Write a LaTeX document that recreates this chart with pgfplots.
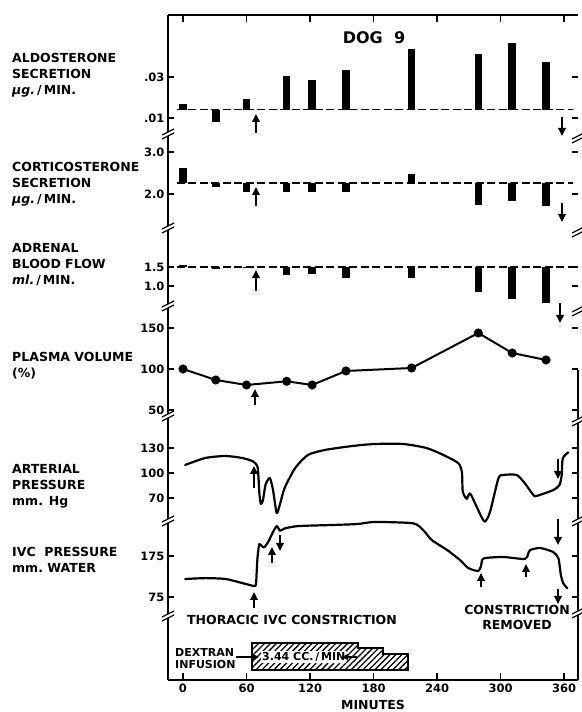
\documentclass[border=0pt]{standalone}
\usepackage{pgfplots}
\pgfplotsset{compat=1.18}
\usepackage{fontspec}
\setmainfont{DejaVu Sans}
\usetikzlibrary{arrows.meta,patterns.meta}
\newcommand{\lab}{\fontsize{12.5}{16}\selectfont\bfseries}
\newcommand{\tlab}{\fontsize{11.5}{13}\selectfont\bfseries}
\pgfplotsset{
  panel/.style={
    scale only axis, width=410pt, xmin=-14.17, xmax=373.2,
    anchor=south west, clip=false,
    hide x axis,
    y axis line style={draw=none},
    ytick pos=both, yticklabel pos=left,
    tick align=inside, major tick length=6pt,
    every tick/.style={black, line width=1.5pt},
    yticklabel style={font=\tlab},
    /pgf/number format/assume math mode=true,
    scaled y ticks=false,
    unbounded coords=jump,
  },
  curve/.style={black, line width=2.2pt, line join=round, line cap=round, smooth, tension=0.4},
  bars/.style={black, line width=7.5pt},
  base/.style={black, line width=1.6pt, dash pattern=on 8pt off 3.5pt},
}
\tikzset{arr/.style={line width=1.8pt, -{Triangle[length=8pt,width=7.5pt]}}}
\begin{document}
\begin{tikzpicture}[x=1pt,y=1pt]
\useasboundingbox (0,0) rectangle (581,712);
% ---------- master frame with time axis ----------
\begin{axis}[scale only axis, width=410pt, height=665pt, at={(168pt,32pt)}, anchor=south west,
  xmin=-14.17, xmax=373.2, ymin=0, ymax=665,
  axis x line=box, axis y line=left, axis line style={-, line width=1.6pt},
  ytick=\empty, xtick={0,60,...,360}, xtick pos=both, xticklabel pos=lower,
  tick align=inside, major tick length=7pt, every tick/.style={black,line width=1.5pt},
  xticklabel style={font=\tlab}, /pgf/number format/assume math mode=true, clip=false]
\addplot[draw=black, line width=1.4pt, pattern={Lines[angle=45, distance=4.2pt, line width=1.3pt]}]
  coordinates {(65.2,10) (65.2,37) (165.4,37) (165.4,32) (189,32) (189,26) (212.6,26) (212.6,10)} -- cycle;
\end{axis}
% ---------- Aldosterone ----------
\begin{axis}[panel, at={(168pt,579pt)}, height=118pt, ymin=0.0026829, ymax=0.0602439,
  ytick={0.01,0.03}, yticklabels={.01,.03}]
\addplot[base] coordinates {(-6,0.0141) (368,0.0141)};
\addplot[bars] coordinates {(0,0.0141)(0,0.0168) (0,nan)
  (31,0.0141)(31,0.0080) (31,nan) (60,0.0141)(60,0.0193) (60,nan)
  (98,0.0141)(98,0.0305) (98,nan) (122,0.0141)(122,0.0285) (122,nan)
  (154,0.0141)(154,0.0334) (154,nan) (216,0.0141)(216,0.0436) (216,nan)
  (279,0.0141)(279,0.0412) (279,nan) (311,0.0141)(311,0.0465) (311,nan)
  (343,0.0141)(343,0.0372)};
\end{axis}
% ---------- Corticosterone ----------
\begin{axis}[panel, at={(168pt,485pt)}, height=94pt, ymin=1.2143, ymax=3.4524,
  ytick={2,3}, yticklabels={2.0,3.0}]
\addplot[base] coordinates {(-6,2.267) (368,2.267)};
\addplot[bars] coordinates {(0,2.267)(0,2.61) (0,nan)
  (31,2.267)(31,2.174) (31,nan) (60,2.267)(60,2.04) (60,nan)
  (98,2.267)(98,2.055) (98,nan) (122,2.267)(122,2.055) (122,nan)
  (154,2.267)(154,2.04) (154,nan) (216,2.267)(216,2.476) (216,nan)
  (279,2.267)(279,1.738) (279,nan) (311,2.267)(311,1.833) (311,nan)
  (343,2.267)(343,1.714)};
\end{axis}
% ---------- Adrenal blood flow ----------
\begin{axis}[panel, at={(168pt,407pt)}, height=78pt, ymin=0.5, ymax=2.5526,
  ytick={1,1.5}, yticklabels={1.0,1.5}]
\addplot[base] coordinates {(-6,1.5) (368,1.5)};
\addplot[bars] coordinates {(0,1.5)(0,1.56) (0,nan)
  (31,1.5)(31,1.455) (31,nan) (60,1.5)(60,1.47) (60,nan)
  (98,1.5)(98,1.29) (98,nan) (122,1.5)(122,1.316) (122,nan)
  (154,1.5)(154,1.22) (154,nan) (216,1.5)(216,1.22) (216,nan)
  (279,1.5)(279,0.83) (279,nan) (311,1.5)(311,0.65) (311,nan)
  (343,1.5)(343,0.545)};
\end{axis}
% ---------- Plasma volume ----------
\begin{axis}[panel, at={(168pt,297pt)}, height=110pt, ymin=43.902, ymax=178.049,
  ytick={50,100,150}]
\addplot[black, line width=2pt, mark=*, mark size=3.5pt] coordinates {
  (0,100) (31,86.6) (60,80.5) (98,85) (122,80.5) (154,97.6) (216,101.2) (279,143.9) (311,119.5) (343,111)};
\end{axis}
% ---------- Arterial pressure ----------
\begin{axis}[panel, at={(168pt,192pt)}, height=105pt, ymin=43.6, ymax=169.6,
  ytick={70,100,130}]
\addplot[curve] coordinates {
  (2,109.6) (21,118) (40,120.4) (56,118) (66,114) (70.3,108) (71.3,95) (72.2,75) (73.5,63)
  (75.5,67) (78,86) (82,94) (85,80) (88.5,52) (91.5,62) (96,82) (106,106) (118,121.6)
  (134,127.6) (160,132.4) (181,134.8) (208,134.8) (230,130) (246,121.6) (260,112)
  (263.5,101) (264.3,78) (268,69) (271.2,75.6) (278,58) (284.8,41.6) (290,53) (298,93.6)
  (302.7,97.6) (315.3,97.6) (323,87.6) (331,73.6) (334,72.4) (350,79.6) (355.7,85.6)
  (357.8,97.6) (358.8,117.6) (364,124.8)};
\end{axis}
% ---------- IVC pressure ----------
\begin{axis}[panel, at={(168pt,97pt)}, height=95pt, ymin=31.098, ymax=262.80,
  ytick={75,175}]
\addplot[curve] coordinates {
  (2,118.9) (21,121) (40,119) (56,109) (67.4,101.8) (69,108) (70.2,165) (71.2,189.6)
  (72.2,204) (76.5,196) (80.6,210) (84.4,230) (88.5,248) (91.7,236.7) (96.4,242.5)
  (109,248) (140.8,250.6) (165,253) (181,258) (217.4,254.7) (227,238) (235,214)
  (249.5,189.6) (261.8,165) (269.4,145.7) (278.8,138.4) (281.5,150) (282.6,165)
  (285.4,170) (302.5,172.6) (323,167.7) (326,180) (328,189.6) (337.4,194.5)
  (349.7,184.8) (354.7,169.4) (357,128.7) (359.4,108) (363.2,96)};
\end{axis}
% ---------- annotations in pixel coordinates ----------
\begin{scope}[shift={(0,712)}, yscale=-1]
  \draw[line width=1.6pt] (578,370) -- (578,680);
  \foreach \yy in {133,227,305,415,520,615} {
    \fill[white] (162,\yy+6) -- (174,\yy) -- (174,\yy-4) -- (162,\yy+2) -- cycle;
    \draw[line width=1.3pt] (162,\yy+6) -- (174,\yy) (162,\yy+2) -- (174,\yy-4);
  }
  \foreach \yy in {137,231,310,420,520,612} {
    \fill[white] (572,\yy+6) -- (584,\yy) -- (584,\yy-4) -- (572,\yy+2) -- cycle;
    \draw[line width=1.3pt] (572,\yy+6) -- (584,\yy) (572,\yy+2) -- (584,\yy-4);
  }
  % arrows
  \draw[arr] (256,133) -- (256,114);
  \draw[arr] (562,117) -- (562,136);
  \draw[arr] (256,206) -- (256,187);
  \draw[arr] (562,203) -- (562,222);
  \draw[arr] (256,291) -- (256,270);
  \draw[arr] (560,303) -- (560,323);
  \draw[arr] (255,405) -- (255,389);
  \draw[arr] (254,488) -- (254,466);
  \draw[arr] (558,459) -- (558,479);
  \draw[arr] (254,608) -- (254,592);
  \draw[arr] (272,563) -- (272,547);
  \draw[arr] (280,535) -- (280,551);
  \draw[arr] (481,587) -- (481,573);
  \draw[arr] (526,577) -- (526,564);
  \draw[arr] (558,519) -- (558,545);
  \draw[arr] (558,589) -- (558,604);
  % left labels
  \node[anchor=north west, inner sep=0, align=left, font=\lab] at (12,53)
    {ALDOSTERONE\\SECRETION\\\textit{μg.}\,/\,MIN.};
  \node[anchor=north west, inner sep=0, align=left, font=\lab] at (12,162)
    {CORTICOSTERONE\\SECRETION\\\textit{μg.}\,/\,MIN.};
  \node[anchor=north west, inner sep=0, align=left, font=\lab] at (12,243)
    {ADRENAL\\BLOOD FLOW\\\textit{ml.}\,/\,MIN.};
  \node[anchor=north west, inner sep=0, align=left, font=\lab] at (12,352)
    {PLASMA VOLUME\\(\%)};
  \node[anchor=north west, inner sep=0, align=left, font=\lab] at (12,464)
    {ARTERIAL\\PRESSURE\\ mm. Hg};
  \node[anchor=north west, inner sep=0, align=left, font=\lab] at (12,547)
    {IVC\ \ PRESSURE\\ mm.\ WATER};
  % titles and notes
  \node[font=\fontsize{16}{18}\selectfont\bfseries] at (374,38) {DOG\ \ 9};
  \node[anchor=north west, inner sep=0, font=\lab] at (187,615) {THORACIC\ IVC\ CONSTRICTION};
  \node[anchor=north, inner sep=0, align=center, font=\fontsize{12.5}{15}\selectfont\bfseries] at (517,605)
    {CONSTRICTION\\REMOVED};
  \node[anchor=north west, inner sep=0, align=left, font=\fontsize{11}{12.5}\selectfont\bfseries] at (175,648)
    {DEXTRAN\\INFUSION};
  \draw[arr] (236,657) -- (259,657);
  \node[anchor=west, inner sep=1pt, fill=white, font=\fontsize{11}{12}\selectfont\bfseries] at (261,657)
    {3.44 CC.\,/\,MIN};
  \draw[line width=1.5pt, -{Triangle[length=6pt,width=6pt]}] (357,657) -- (342,657);
  \node[font=\fontsize{12.5}{14}\selectfont\bfseries] at (373,705) {MINUTES};
\end{scope}
\end{tikzpicture}
\end{document}
